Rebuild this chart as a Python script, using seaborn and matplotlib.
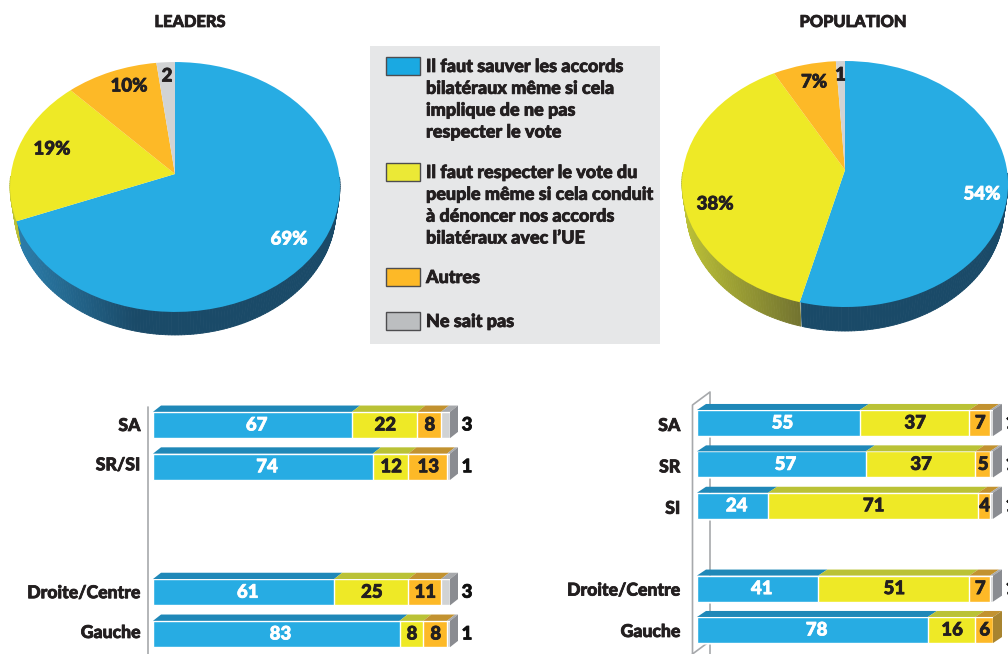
import numpy as np
import pandas as pd
import matplotlib
matplotlib.use("Agg")
import matplotlib.pyplot as plt
import matplotlib.patheffects as pe
from matplotlib.patches import Rectangle, Polygon
from matplotlib.collections import PolyCollection
from matplotlib.text import Text
from matplotlib.transforms import Transform, ScaledTranslation
from matplotlib.colors import to_rgb
import seaborn as sns

# ---------- data ----------
leaders_pie = [69, 19, 10, 2]
population_pie = [54, 38, 7, 1]

leaders_rows = ["SA", "SR/SI", " ", "  ", "Droite/Centre", "Gauche"]
leaders_groups = ["SA", "SR/SI", "Droite/Centre", "Gauche"]
leaders_sauver = [67, 74, 61, 83]
leaders_respecter = [22, 12, 25, 8]
leaders_autres = [8, 13, 11, 8]
leaders_nsp = [3, 1, 3, 1]

population_rows = ["SA", "SR", "SI", " ", "Droite/Centre", "Gauche"]
population_groups = ["SA", "SR", "SI", "Droite/Centre", "Gauche"]
population_sauver = [55, 57, 24, 41, 78]
population_respecter = [37, 37, 71, 51, 16]
population_autres = [7, 5, 4, 7, 6]
population_nsp = [1, 1, 1, 1, 0]

legend_labels = [
    "Il faut sauver les accords\nbilatéraux même si cela\nimplique de ne pas\nrespecter le vote",
    "Il faut respecter le vote du\npeuple même si cela conduit\nà dénoncer nos accords\nbilatéraux avec l’UE",
    "Autres",
    "Ne sait pas",
]

# ---------- style ----------
BLUE, YELLOW, ORANGE, GREY = "#27ace3", "#eee926", "#fdb927", "#d1d3d4"
TOPS = ["#1f88b8", "#bac236", "#c29230", "#a7a9ac"]
COLORS = [BLUE, YELLOW, ORANGE, GREY]
SIDES = [("#2c80ae", "#1a4a68"), ("#bcc136", "#6f7030"), ("#c29230", "#8a6a20"), ("#a7a9ac", "#77787b")]
INK = "#231f20"
W, H = 1008, 654

sns.set_theme(style="white")
plt.rcParams["font.family"] = ["Lato", "DejaVu Sans"]
plt.rcParams["font.weight"] = "black"

fig = plt.figure(figsize=(W / 100, H / 100), dpi=100)
fig.patch.set_facecolor("white")
canvas = fig.add_axes([0, 0, 1, 1], zorder=1)


class Tilt(Transform):
    """Perspective view of the unit-circle pie, in canvas pixels."""
    input_dims = output_dims = 2

    def __init__(self, cx, cy, a, b, k):
        super().__init__()
        self.p = (cx, cy, a, b, k)

    def transform_non_affine(self, xy):
        cx, cy, a, b, k = self.p
        xy = np.asarray(xy, float)
        d = 1 - k * xy[:, 1]
        return np.column_stack([cx + a * xy[:, 0] / d, cy - b * xy[:, 1] / d])


def draw_pie(values, cx, cy, a, b, k, depth):
    tilt = Tilt(cx, cy, a, b, k)
    cum = np.cumsum([0] + list(values)) / sum(values) * 2 * np.pi
    quads, cols = [], []
    for i, (light, dark) in enumerate(SIDES):
        th = np.arange(cum[i], cum[i + 1] + 1e-9, np.radians(1.0))
        th = th[np.cos(th) < -0.02]
        if len(th) < 2:
            continue
        pts = tilt.transform_non_affine(np.column_stack([np.sin(th), np.cos(th)]))
        low = pts.copy()
        low[:, 0] = cx + (pts[:, 0] - cx) * 0.975
        low[:, 1] += depth
        for j in range(len(pts) - 1):
            quads.append([pts[j] - [0, 1], pts[j + 1] - [0, 1], low[j + 1], low[j]])
            f = min(1, max(0, (pts[j, 0] - (cx - a)) / (2 * a) / 0.38))
            cols.append(tuple((1 - f) * np.array(to_rgb(light)) + f * np.array(to_rgb(dark))))
    canvas.add_collection(PolyCollection(quads, facecolors=cols, edgecolors=cols,
                                         linewidths=0.6, zorder=1))
    wedges, _ = canvas.pie(values, colors=COLORS, startangle=90, counterclock=False,
                           wedgeprops=dict(linewidth=0))
    for w_ in wedges:
        w_.set_transform(tilt + canvas.transData)
        w_.set_zorder(2)
        w_.set_clip_on(False)


draw_pie(leaders_pie, 175, 174, 164.1, 123.6, -0.104, 23)
draw_pie(population_pie, 845, 170, 162, 121.4, -0.1139, 24)

canvas.set_aspect("auto")
canvas.set_xlim(0, W)
canvas.set_ylim(H, 0)
canvas.axis("off")


def ctext(x, y, s, size=13.4, color=INK, **kw):
    canvas.text(x, y, s, fontsize=size, color=color, ha="center", va="center", zorder=6, **kw)


# pie labels
ctext(289, 239, "69%", color="white")
ctext(52, 149, "19%")
ctext(129, 86, "10%")
ctext(167, 76, "2")
ctext(982, 194, "54%", color="white")
ctext(715, 204, "38%")
ctext(814, 82, "7%")
ctext(840.5, 75, "1")
ctext(190, 22, "LEADERS", size=11.8)
ctext(853, 22, "POPULATION", size=11.8)

# legend panel
canvas.add_patch(Rectangle((370, 46), 290, 298, fc="#e6e7e8", ec="none", zorder=0))
sw_y = [57, 163, 268, 312]
sw_c = ["#1aa9e2", "#ebe936", ORANGE, "#bcbec0"]
for y, c, s in zip(sw_y, sw_c, legend_labels):
    canvas.add_patch(Rectangle((386, y), 34, 17.5, fc=c, ec="#4d4d4f", lw=1, zorder=3))
    canvas.text(426, y + 1, s, fontsize=12.95, color=INK, va="top", ha="left",
                linespacing=1.345, zorder=4)

# axis rules
rule = "#a7a9ac"
canvas.plot([148, 148], [407, 654], color=rule, lw=1.2, zorder=0)
canvas.plot([692.5, 692.5, 710, 710], [654, 405, 392, 654], color=rule, lw=1.2, zorder=0)
canvas.plot([692.5, 710], [654, 641], color=rule, lw=1.2, zorder=0)


def draw_bars(rect_px, rows, groups, series, off_px, out_x, pad, label_dy):
    x0, x1, y0, y1 = rect_px
    ax = fig.add_axes([x0 / W, 1 - y1 / H, (x1 - x0) / W, (y1 - y0) / H], zorder=3)
    ax.patch.set_alpha(0)
    df = pd.DataFrame({"group": groups})
    cums = np.cumsum(np.array(series, float), axis=0)
    for i in range(3, -1, -1):
        df["v"] = cums[i]
        sns.barplot(data=df, y="group", x="v", order=rows, color=COLORS[i], saturation=1,
                    width=0.63, orient="h", errorbar=None, ax=ax)
    ax.set_xlim(0, 100)
    ax.set_ylim(len(rows) - 0.5, -0.5)
    ax.set(xlabel="", ylabel="")
    ax.set_xticks([])
    sns.despine(ax=ax, left=True, bottom=True)
    ax.tick_params(axis="y", length=0, pad=pad, labelsize=12.7, labelcolor=INK)
    for lab, d in zip(ax.get_yticklabels(), label_dy):
        lab.set_transform(lab.get_transform() + ScaledTranslation(0, -d / 100, fig.dpi_scale_trans))
    dx = off_px[0] / ((x1 - x0) / 100)
    dy = off_px[1] / ((y1 - y0) / len(rows))
    for g_i, g in enumerate(groups):
        r = rows.index(g)
        top = r - 0.315
        left = 0.0
        last = 0
        for i in range(4):
            v = series[i][g_i]
            if v == 0:
                continue
            ax.add_patch(Polygon([(left, top), (left + v, top), (left + v + dx, top - dy),
                                  (left + dx, top - dy)], fc=TOPS[i], ec="none", clip_on=False))
            last = i
            if i < 3:
                col = "white" if i == 0 else INK
                shift = 1.4 if i == 0 else 0.2
                ax.text(left + v / 2 + shift, r, str(v), ha="center", va="center", color=col,
                        fontsize=13.4, zorder=6)
            left += v
        side = "#8a8c91" if last == 3 else "#a8842f"
        ax.add_patch(Polygon([(100, top), (100 + dx, top - dy), (100 + dx, r + 0.315 - dy),
                              (100, r + 0.315)], fc=side, ec="none", clip_on=False))
        nsp = series[3][g_i]
        if nsp:
            canvas.text(out_x, y0 + (r + 0.5) * (y1 - y0) / len(rows), str(nsp),
                        ha="center", va="center", fontsize=13.4, color="#111111", zorder=6)
    return ax


draw_bars((153, 450, 404.1, 654.9), leaders_rows, leaders_groups,
          [leaders_sauver, leaders_respecter, leaders_autres, leaders_nsp], (8, 6.3), 467, 9,
          [-1, -3.5, 0, 0, -1, -3])
draw_bars((697, 993, 402.3, 650.7), population_rows, population_groups,
          [population_sauver, population_respecter, population_autres, population_nsp], (9, 6), 1011, 12,
          [1, 1, 1, 0, 0, 0])

# the reference type is heavier than the installed bold
for t in fig.findobj(Text):
    t.set_path_effects([pe.withStroke(linewidth=0.55, foreground=t.get_color())])

fig.savefig("out.png", dpi=100)
